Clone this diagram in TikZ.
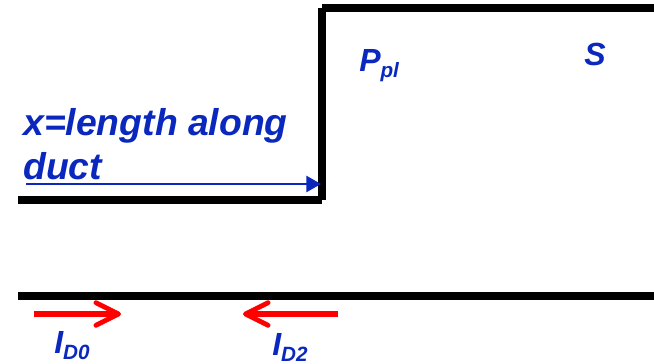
\documentclass[tikz,border=0pt]{standalone}
\usepackage{fontspec}
\setmainfont{Liberation Sans}
\usetikzlibrary{arrows.meta}
\definecolor{lblue}{RGB}{10,40,190}
\tikzset{x=0.75pt,y=-0.75pt,
 wall/.style={line width=6pt,black,line cap=butt,line join=miter},
 lab/.style={inner sep=0pt,text=lblue,anchor=base west},
 biglab/.style={lab,font=\fontsize{28pt}{32pt}\selectfont\bfseries\itshape},
 symlab/.style={lab,font=\fontsize{24pt}{28pt}\selectfont\bfseries\itshape},
 redarrow/.style={red,line width=3.8pt,-{Straight Barb[length=17pt,width=17pt,line width=3.6pt,round]}},
 bluearrow/.style={lblue,line width=2pt,-{Stealth[length=11pt,width=12pt,inset=0pt]}}}
\newcommand{\subtxt}[1]{\raisebox{-5pt}{\fontsize{15.5pt}{18pt}\selectfont #1}}
\begin{document}
\begin{tikzpicture}
\useasboundingbox (0,0) rectangle (654,364);
\fill[white] (0,0) rectangle (654,364);
\coordinate (a) at (18,200);\coordinate (b) at (322,200);
\coordinate (c0) at (322,200);\coordinate (c) at (322,8);
\coordinate (c1) at (322,8);\coordinate (d) at (654,8);
\coordinate (e) at (18,296);\coordinate (f) at (654,296);
\draw[wall] (a) -- (b);
\draw[wall] (c0) -- (c);
\draw[wall] (c1) -- (d);
\draw[wall] (e) -- (f);
\coordinate (g) at (26,184);\coordinate (h) at (321,184);
\draw[bluearrow] (g) -- (h);
\coordinate (i) at (34,314);\coordinate (j) at (121,314);
\draw[redarrow] (i) -- (j);
\coordinate (k) at (338,314);\coordinate (l) at (243,314);
\draw[redarrow] (k) -- (l);
\node[biglab] (x1) at (23,135) {x=length along};
\node[biglab] (x2) at (23,179) {duct};
\node[symlab] (p) at (359,71) {P\subtxt{pl}};
\node[symlab] (s) at (584,65.5) {S};
\node[symlab] (i0) at (54,353) {I\subtxt{D0}};
\node[symlab] (i2) at (272,355) {I\subtxt{D2}};
\end{tikzpicture}
\end{document}
